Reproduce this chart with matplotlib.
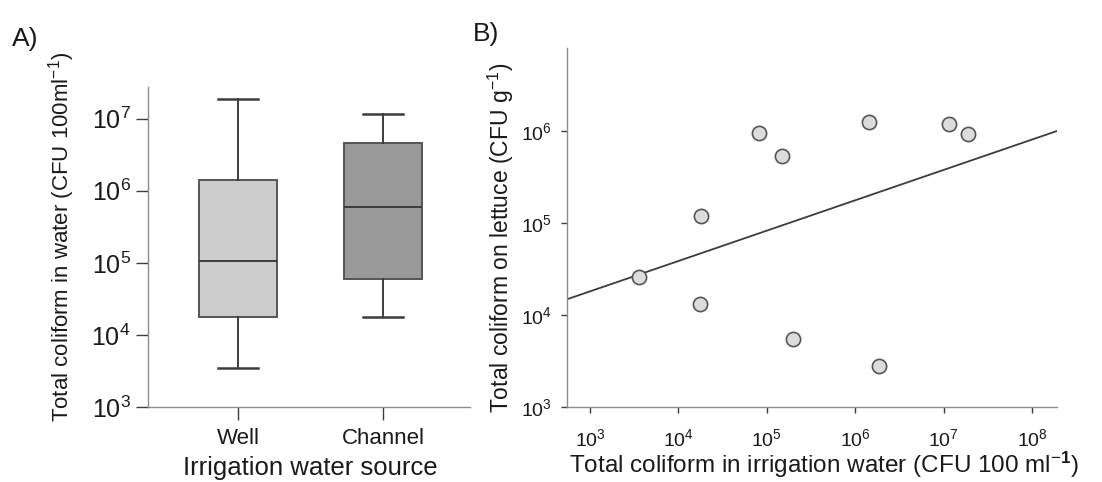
#!/usr/bin/env python3
# -*- coding: utf-8 -*-
# ============================================================================
# Title     : Total coliform in irrigation water and on lettuce
# ----------------------------------------------------------------------------
# Description :
#   Panel A: box plots of total coliform per irrigation water source.
#   Panel B: coliform on lettuce vs coliform in irrigation water (log-log)
#   with the fitted regression line.
# ============================================================================

# -----------------------------------------------------------------------------
# Import
# -----------------------------------------------------------------------------

import matplotlib

matplotlib.use("Agg")
import matplotlib.pyplot as plt
import numpy as np

# -----------------------------------------------------------------------------
# Data
# -----------------------------------------------------------------------------

# Panel A : box statistics (CFU 100 ml-1)
SOURCES = ["Well", "Channel"]
WHISKER_LOW = [3.5e3, 1.8e4]
Q1 = [1.8e4, 5.9e4]
MEDIAN = [1.07e5, 5.9e5]
Q3 = [1.4e6, 4.6e6]
WHISKER_HIGH = [1.9e7, 1.17e7]
BOX_COLORS = ["#cccccc", "#999999"]

# Panel B : paired samples
WATER_CFU = [3.6e3, 1.8e4, 1.77e4, 8.1e4, 1.49e5, 1.95e5, 1.43e6, 1.87e6, 1.15e7, 1.88e7]
LETTUCE_CFU = [2.6e4, 1.2e5, 1.3e4, 9.5e5, 5.3e5, 5.5e3, 1.24e6, 2.8e3, 1.2e6, 9.2e5]

# regression line on log10 scale : log(y) = FIT_INTERCEPT + FIT_SLOPE * log(x)
FIT_SLOPE = 0.33
FIT_INTERCEPT = 3.266

A_TICKS = [1e3, 1e4, 1e5, 1e6, 1e7]
A_TICK_LABELS = ["$10^{3}$", "$10^{4}$", "$10^{5}$", "$10^{6}$", "$10^{7}$"]
B_YTICKS = [1e3, 1e4, 1e5, 1e6]
B_YTICK_LABELS = ["$10^{3}$", "$10^{4}$", "$10^{5}$", "$10^{6}$"]
B_XTICKS = [1e3, 1e4, 1e5, 1e6, 1e7, 1e8]
B_XTICK_LABELS = ["$10^{3}$", "$10^{4}$", "$10^{5}$", "$10^{6}$", "$10^{7}$", "$10^{8}$"]

# -----------------------------------------------------------------------------
# Style
# -----------------------------------------------------------------------------

plt.rcParams["font.family"] = ["Liberation Sans", "DejaVu Sans"]
plt.rcParams["mathtext.fontset"] = "custom"
plt.rcParams["mathtext.rm"] = "Liberation Sans"
plt.rcParams["mathtext.it"] = "Liberation Sans:italic"
plt.rcParams["mathtext.bf"] = "Liberation Sans:bold"
plt.rcParams["mathtext.default"] = "regular"

TEXT_COLOR = "#1a1a1a"
SPINE_COLOR = "#8c8c8c"
LINE_COLOR = "#3c3c3c"


# -----------------------------------------------------------------------------
# Function : style_axes
# Description :
#   Keep only left and bottom spines, in light gray, ticks pointing out.
# -----------------------------------------------------------------------------
def style_axes(ax, tick_len, label_size):
    for side in ("top", "right"):
        ax.spines[side].set_visible(False)
    for side in ("left", "bottom"):
        ax.spines[side].set_color(SPINE_COLOR)
        ax.spines[side].set_linewidth(1.0)
    ax.tick_params(which="major", direction="out", length=tick_len, width=1.0,
                   color=LINE_COLOR, labelsize=label_size, labelcolor=TEXT_COLOR)
    ax.tick_params(which="minor", length=0)


# -----------------------------------------------------------------------------
# Function : draw_panel_a
# Description :
#   Box plots built from the summary statistics above.
# -----------------------------------------------------------------------------
def draw_panel_a(fig):
    ax = fig.add_axes([0.1343, 0.1556, 0.2922, 0.664])
    stats = []
    for i, name in enumerate(SOURCES):
        stats.append({
            "label": name,
            "whislo": WHISKER_LOW[i],
            "q1": Q1[i],
            "med": MEDIAN[i],
            "q3": Q3[i],
            "whishi": WHISKER_HIGH[i],
            "fliers": [],
        })
    parts = ax.bxp(stats, positions=[1, 2], widths=0.54, patch_artist=True,
                   showfliers=False,
                   boxprops=dict(edgecolor="#555555", linewidth=1.4),
                   medianprops=dict(color=LINE_COLOR, linewidth=1.4),
                   whiskerprops=dict(color=LINE_COLOR, linewidth=1.4),
                   capprops=dict(color=LINE_COLOR, linewidth=1.8),
                   capwidths=0.27)
    for patch, color in zip(parts["boxes"], BOX_COLORS):
        patch.set_facecolor(color)

    ax.set_yscale("log")
    ax.set_ylim(1e3, 10 ** 7.44)
    ax.set_xlim(0.38, 2.60)
    ax.set_yticks(A_TICKS)
    ax.set_yticklabels(A_TICK_LABELS)
    style_axes(ax, 9, 18)
    ax.tick_params(axis="x", labelsize=16, pad=6)
    ax.set_xlabel("Irrigation water source", fontsize=18.5, color=TEXT_COLOR)
    ax.xaxis.set_label_coords(0.505, -0.152)
    ax.set_ylabel("Total coliform in water (CFU 100ml$^{-1}$)", fontsize=16,
                  color=TEXT_COLOR)
    ax.yaxis.set_label_coords(-0.22, 0.533)
    fig.text(0.011, 0.905, "A)", fontsize=19, color=TEXT_COLOR)
    return ax


# -----------------------------------------------------------------------------
# Function : draw_panel_b
# Description :
#   Scatter of lettuce vs water coliform with fitted line.
# -----------------------------------------------------------------------------
def draw_panel_b(fig):
    ax = fig.add_axes([0.5145, 0.1556, 0.4446, 0.7448])
    ax.set_xscale("log")
    ax.set_yscale("log")
    ax.set_xlim(10 ** 2.74, 10 ** 8.28)
    ax.set_ylim(1e3, 10 ** 6.9)

    log_x = np.log10(ax.get_xlim())
    fit_y = 10 ** (FIT_INTERCEPT + FIT_SLOPE * log_x)
    ax.plot(10 ** log_x, fit_y, color=LINE_COLOR, linewidth=1.3, zorder=2)

    ax.scatter(WATER_CFU, LETTUCE_CFU, s=105, facecolor="#dcdcdc",
               edgecolor="#555555", linewidth=1.2, zorder=3)

    ax.set_xticks(B_XTICKS)
    ax.set_xticklabels(B_XTICK_LABELS)
    ax.set_yticks(B_YTICKS)
    ax.set_yticklabels(B_YTICK_LABELS)
    style_axes(ax, 4, 14)
    ax.tick_params(axis="x", pad=11)
    ax.tick_params(axis="y", pad=7)
    ax.set_xlabel("Total coliform in irrigation water (CFU 100 ml$^{-\\mathbf{1}}$)",
                  fontsize=17.5, color=TEXT_COLOR)
    ax.xaxis.set_label_coords(0.525, -0.118)
    ax.set_ylabel("Total coliform on lettuce (CFU g$^{-1}$)", fontsize=16.5,
                  color=TEXT_COLOR)
    ax.yaxis.set_label_coords(-0.104, 0.472)
    fig.text(0.429, 0.915, "B)", fontsize=19, color=TEXT_COLOR)
    return ax


# -----------------------------------------------------------------------------
# Function : main
# -----------------------------------------------------------------------------
def main():
    fig = plt.figure(figsize=(11.02, 4.82), dpi=100)
    draw_panel_a(fig)
    draw_panel_b(fig)
    fig.savefig("out.png", dpi=100, facecolor="white")


# -----------------------------------------------------------------------------
# Entry point
# -----------------------------------------------------------------------------

if __name__ == "__main__":
    main()

# end of file
